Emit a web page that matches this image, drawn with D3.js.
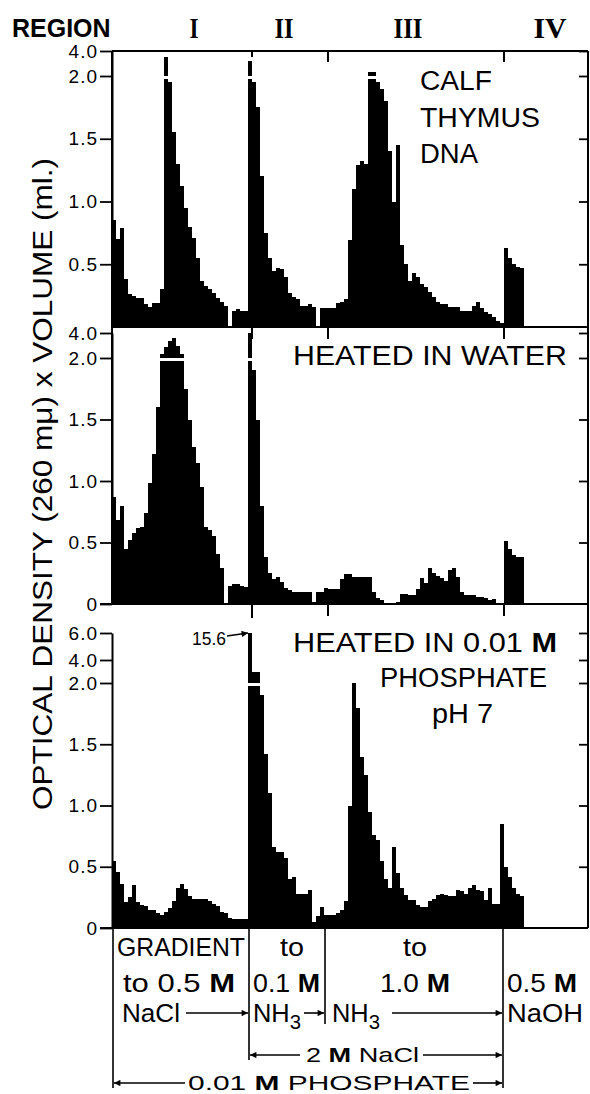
<!DOCTYPE html>
<html>
<head>
<meta charset="utf-8">
<script src="https://cdn.jsdelivr.net/npm/d3@7"></script>
<style>
  body { margin: 0; background: #fff; }
  svg text { font-family: "Liberation Sans", Arial, sans-serif; fill: #000; }
</style>
</head>
<body>
<div id="chart"></div>
<script>
// optical density x volume per fraction, one value per tube
var calfThymus = [0.85, 0.70, 0.79, 0.38, 0.26, 0.25, 0.23, 0.23, 0.18, 0.16,
  0.19, 0.19, 0.30, 3.50, 1.95, 1.55, 1.30, 1.12, 0.95, 0.80,
  0.71, 0.55, 0.37, 0.33, 0.30, 0.27, 0.23, 0.20, 0.17, 0.00,
  0.13, 0.14, 0.13, 0.13, 3.20, 1.95, 1.75, 1.20, 0.75, 0.55,
  0.45, 0.47, 0.46, 0.40, 0.27, 0.24, 0.22, 0.17, 0.17, 0.18,
  0.16, 0.00, 0.15, 0.15, 0.15, 0.15, 0.19, 0.20, 0.22, 0.69,
  1.10, 1.29, 1.32, 1.30, 2.30, 2.30, 1.95, 1.90, 1.80, 1.40,
  1.00, 1.45, 0.65, 0.50, 0.37, 0.43, 0.40, 0.34, 0.32, 0.28,
  0.24, 0.20, 0.18, 0.18, 0.16, 0.16, 0.16, 0.13, 0.13, 0.13,
  0.17, 0.20, 0.15, 0.12, 0.10, 0.08, 0.05, 0.03, 0.63, 0.55,
  0.50, 0.48, 0.47];

var heatedWater = [0.87, 0.68, 0.80, 0.45, 0.52, 0.58, 0.62, 0.63, 0.74, 0.98,
  1.22, 1.60, 2.30, 2.90, 3.40, 3.60, 3.00, 2.30, 1.75, 1.50,
  1.28, 1.15, 0.95, 0.63, 0.60, 0.55, 0.41, 0.29, 0.00, 0.15,
  0.16, 0.16, 0.15, 0.14, 4.00, 1.90, 1.50, 0.80, 0.38, 0.25,
  0.20, 0.22, 0.18, 0.13, 0.11, 0.10, 0.10, 0.10, 0.10, 0.10,
  0.02, 0.10, 0.10, 0.13, 0.12, 0.12, 0.12, 0.20, 0.24, 0.24,
  0.22, 0.22, 0.22, 0.22, 0.22, 0.10, 0.05, 0.03, 0.01, 0.01,
  0.01, 0.02, 0.08, 0.08, 0.07, 0.07, 0.12, 0.21, 0.17, 0.29,
  0.25, 0.23, 0.21, 0.19, 0.28, 0.29, 0.22, 0.10, 0.07, 0.07,
  0.07, 0.06, 0.06, 0.05, 0.03, 0.04, 0.01, 0.01, 0.51, 0.45,
  0.40, 0.38, 0.38];

var heatedPhosphate = [0.55, 0.46, 0.36, 0.21, 0.25, 0.35, 0.21, 0.19, 0.18, 0.15,
  0.15, 0.12, 0.11, 0.13, 0.16, 0.22, 0.33, 0.36, 0.32, 0.26,
  0.24, 0.24, 0.24, 0.24, 0.22, 0.20, 0.18, 0.13, 0.12, 0.08,
  0.07, 0.07, 0.07, 0.07, 15.6, 3.00, 3.00, 1.90, 1.42, 1.10,
  0.66, 0.62, 0.62, 0.57, 0.40, 0.42, 0.28, 0.28, 0.28, 0.31,
  0.05, 0.10, 0.17, 0.11, 0.11, 0.11, 0.12, 0.15, 0.22, 1.00,
  2.00, 1.80, 1.40, 1.25, 0.95, 0.76, 0.72, 0.55, 0.40, 0.33,
  0.66, 0.45, 0.33, 0.27, 0.23, 0.23, 0.19, 0.17, 0.17, 0.22,
  0.24, 0.27, 0.28, 0.27, 0.26, 0.26, 0.31, 0.30, 0.28, 0.33,
  0.35, 0.31, 0.30, 0.23, 0.33, 0.20, 0.20, 0.85, 0.50, 0.42,
  0.33, 0.28, 0.26];

var ticksUpper = [4.0, 2.0, 1.5, 1.0, 0.5];
var ticksMiddle = [4.0, 2.0, 1.5, 1.0, 0.5, 0];
var ticksLower = [6.0, 4.0, 2.0, 1.5, 1.0, 0.5, 0];
var regionLabels = ["I", "II", "III", "IV"];
var regionBreaks = [35, 54, 98];   // tube numbers where the regions change
var brokenAt = 2.0;                // axis is compressed above this value

var width = 590, height = 1094;
var left = 112, right = 588;

var svg = d3.select("#chart").append("svg")
    .attr("width", width)
    .attr("height", height);

var defs = svg.append("defs");
defs.append("marker")
    .attr("id", "arrow")
    .attr("viewBox", "0 0 10 10")
    .attr("refX", 10).attr("refY", 5)
    .attr("markerWidth", 5).attr("markerHeight", 4)
    .attr("markerUnits", "strokeWidth")
    .attr("orient", "auto-start-reverse")
  .append("path")
    .attr("d", "M0,0L10,5L0,10z")
    .attr("fill", "#000");

var x = d3.scaleLinear()
    .domain([0, calfThymus.length])
    .range([left, left + 4 * calfThymus.length]);

var panels = [
  {values: calfThymus, ticks: ticksUpper, y: d3.scaleLinear().domain([0, 2, 4]).range([327, 76, 51])},
  {values: heatedWater, ticks: ticksMiddle, y: d3.scaleLinear().domain([0, 2, 4]).range([604, 358, 333])},
  {values: heatedPhosphate, ticks: ticksLower, y: d3.scaleLinear().domain([0, 2, 4, 6]).range([928, 683, 660, 633]).clamp(true)}
];

function fmt(d) { return d === 0 ? "0" : d.toFixed(1); }

panels.forEach(function(p) {
  var g = svg.append("g");
  var y = p.y;

  g.selectAll(".bar")
      .data(p.values)
    .enter().append("rect")
      .attr("class", "bar")
      .attr("x", function(d, i) { return x(i); })
      .attr("width", function(d, i) { return x(i + 1) - x(i); })
      .attr("y", function(d) { return y(d); })
      .attr("height", function(d) { return y(0) - y(d); })
      .attr("fill", "#000")
      .attr("shape-rendering", "crispEdges");

  // white gap where the scale breaks
  g.selectAll(".gap")
      .data(p.values.map(function(d, i) { return {v: d, i: i}; })
        .filter(function(d) { return d.v > brokenAt + 0.05; }))
    .enter().append("rect")
      .attr("class", "gap")
      .attr("x", function(d) { return x(d.i) - 1; })
      .attr("width", function(d) { return x(d.i + 1) - x(d.i) + 2; })
      .attr("y", y(brokenAt))
      .attr("height", 3)
      .attr("fill", "#fff");

  var axis = d3.axisLeft(y)
      .tickValues(p.ticks)
      .tickFormat(fmt)
      .tickSize(12)
      .tickSizeOuter(0);
  var ag = g.append("g")
      .attr("transform", "translate(" + left + ",0)")
      .call(axis);
  ag.select(".domain").attr("stroke-width", 2);
  ag.selectAll(".tick line").attr("stroke-width", 1.8);
  ag.selectAll(".tick text")
      .attr("x", -14)
      .style("font-size", "19px")
      .style("letter-spacing", "1px")
      .style("font-family", "'Liberation Sans', Arial, sans-serif");

  var rg = g.append("g")
      .attr("transform", "translate(" + right + ",0)")
      .call(d3.axisLeft(y)
        .tickValues(p.ticks.filter(function(d) { return d > 0; }))
        .tickFormat("")
        .tickSize(9)
        .tickSizeOuter(0));
  rg.select(".domain").remove();
  rg.selectAll(".tick line").attr("stroke-width", 1.8);
});

// frame
var frame = svg.append("g").attr("stroke", "#000").attr("stroke-width", 2).attr("fill", "none");
frame.append("line").attr("x1", left).attr("x2", right).attr("y1", 51).attr("y2", 51);
frame.append("line").attr("x1", left).attr("x2", right).attr("y1", 327).attr("y2", 327);
frame.append("line").attr("x1", 100).attr("x2", right).attr("y1", 604).attr("y2", 604);
frame.append("line").attr("x1", 100).attr("x2", right).attr("y1", 928).attr("y2", 928);
frame.append("line").attr("x1", left).attr("x2", left).attr("y1", 51).attr("y2", 604);
frame.append("line").attr("x1", right).attr("x2", right).attr("y1", 51).attr("y2", 928);

// region ticks hanging from each panel top
[{y: 51, len: [6, 11, 11]}, {y: 327, len: [12, 12, 12]}, {y: 604, len: [14, 12, 12]}].forEach(function(b) {
  regionBreaks.forEach(function(r, i) {
    frame.append("line")
        .attr("x1", x(r)).attr("x2", x(r))
        .attr("y1", b.y).attr("y2", b.y + b.len[i]);
  });
});

// header
svg.append("text")
    .attr("x", 12).attr("y", 37)
    .style("font-size", "25px").style("font-weight", "bold")
    .text("REGION");
var romanX = [194, 284, 408, 550];
var romanW = [9, 19, 29, 33];
regionLabels.forEach(function(r, i) {
  svg.append("text")
      .attr("x", romanX[i] - romanW[i] / 2).attr("y", 38)
      .attr("textLength", romanW[i])
      .attr("lengthAdjust", "spacingAndGlyphs")
      .style("font-family", "'Liberation Serif', 'Times New Roman', serif")
      .style("font-size", "29px").style("font-weight", "bold")
      .text(r);
});

// y axis title
svg.append("text")
    .attr("transform", "translate(52,484) rotate(-90)")
    .attr("text-anchor", "middle")
    .attr("textLength", 652)
    .attr("lengthAdjust", "spacingAndGlyphs")
    .style("font-size", "27px")
    .text("OPTICAL DENSITY (260 m\u03bc) x VOLUME (ml.)");

// text with optional bold parts
function label(px, py, parts, size, len, anchor) {
  var t = svg.append("text")
      .attr("x", px).attr("y", py)
      .style("font-size", size + "px")
      .attr("text-anchor", anchor || "start");
  if (len) t.attr("textLength", len).attr("lengthAdjust", "spacingAndGlyphs");
  parts.forEach(function(p) {
    var s = t.append("tspan").text(p[0]);
    if (p[1] === "b") s.style("font-weight", "bold");
    if (p[1] === "sub") s.attr("dy", 7).style("font-size", (size - 5) + "px");
  });
  return t;
}

function arrow(x1, y1, x2, y2, both) {
  var l = svg.append("line")
      .attr("x1", x1).attr("y1", y1).attr("x2", x2).attr("y2", y2)
      .attr("stroke", "#000").attr("stroke-width", 1.6)
      .attr("marker-end", "url(#arrow)");
  if (both) l.attr("marker-start", "url(#arrow)");
}

// panel titles
label(420, 90, [["CALF"]], 27, 72);
label(420, 127, [["THYMUS"]], 27, 120);
label(420, 163, [["DNA"]], 27, 58);
label(293, 365, [["HEATED  IN  WATER"]], 27, 274);
label(293, 652, [["HEATED  IN  0.01 "], ["M", "b"]], 27, 264);
label(380, 687, [["PHOSPHATE"]], 27, 167);
label(432, 723, [["pH 7"]], 27, 61);

label(192, 645, [["15.6"]], 19, 34);
arrow(227, 636, 248, 633);

// bottom bracket annotations
var br = svg.append("g").attr("stroke", "#000").attr("stroke-width", 1.6);
br.append("line").attr("x1", 113).attr("x2", 113).attr("y1", 928).attr("y2", 1088);
br.append("line").attr("x1", 249).attr("x2", 249).attr("y1", 928).attr("y2", 1060);
br.append("line").attr("x1", 325).attr("x2", 325).attr("y1", 928).attr("y2", 1024);
br.append("line").attr("x1", 503).attr("x2", 503).attr("y1", 928).attr("y2", 1088);

label(117, 956, [["GRADIENT"]], 25, 128);
label(123, 992, [["to 0.5 "], ["M", "b"]], 25, 112);
label(122, 1022, [["NaCl"]], 25, 58);
arrow(186, 1013, 248, 1013);

label(292, 956, [["to"]], 25, 24, "middle");
label(253, 992, [["0.1 "], ["M", "b"]], 25, 67);
label(253, 1022, [["NH"], ["3", "sub"]], 25, 48);
arrow(304, 1013, 324, 1013);

label(415, 956, [["to"]], 25, 24, "middle");
label(380, 992, [["1.0 "], ["M", "b"]], 25, 70);
label(332, 1022, [["NH"], ["3", "sub"]], 25, 48);
arrow(392, 1013, 502, 1013);

label(507, 992, [["0.5 "], ["M", "b"]], 25, 70);
label(507, 1022, [["NaOH"]], 25, 76);

arrow(300, 1055, 250, 1055);
label(306, 1062, [["2 "], ["M", "b"], [" NaCl"]], 21, 113);
arrow(423, 1055, 502, 1055);

arrow(185, 1083, 114, 1083);
label(188, 1090, [["0.01 "], ["M", "b"], ["   PHOSPHATE"]], 21, 282);
arrow(473, 1083, 502, 1083);
</script>
</body>
</html>
